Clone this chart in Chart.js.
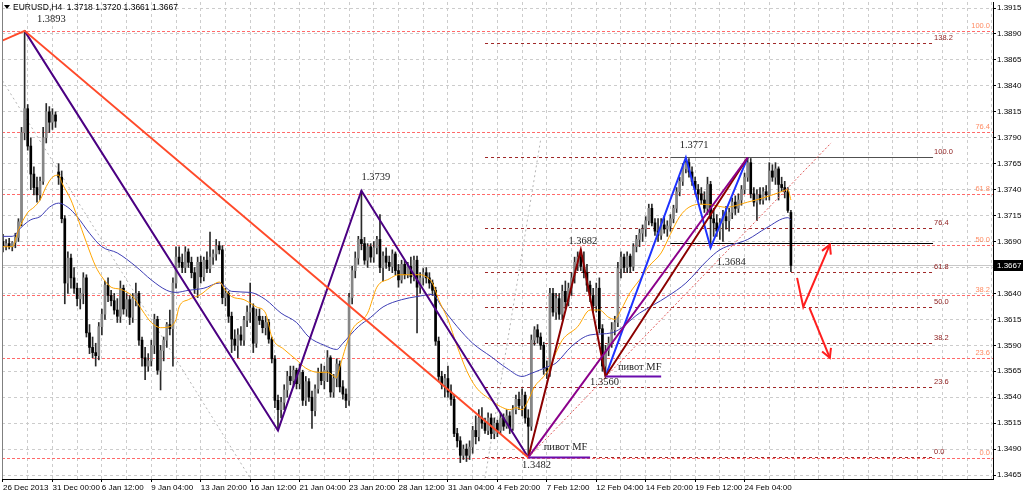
<!DOCTYPE html>
<html>
<head>
<meta charset="utf-8">
<script src="https://cdn.jsdelivr.net/npm/chart.js@4.4.1/dist/chart.umd.min.js"></script>
<style>
  html, body { margin: 0; padding: 0; background: #fff; }
  #chart { display: block; width: 1024px; height: 495px; }
</style>
</head>
<body>
<canvas id="chart" width="1024" height="495"></canvas>
<script>
// EURUSD H4, prices in pips (3690 -> 1.3690), one entry per bar
const opens = [
  3690, 3686, 3688, 3685, 3689, 3694, 3709, 3795, 3818, 3782,
  3755, 3742, 3735, 3748, 3790, 3815, 3805, 3812, 3757, 3752,
  3712, 3650, 3674, 3655, 3645, 3635, 3640, 3655, 3602, 3588,
  3583, 3580, 3608, 3620, 3648, 3638, 3633, 3624, 3618, 3645,
  3625, 3634, 3617, 3635, 3640, 3595, 3578, 3570, 3575, 3590,
  3615, 3566, 3585, 3595, 3610, 3606, 3650, 3675, 3670, 3665,
  3680, 3670, 3660, 3645, 3670, 3656, 3672, 3664, 3675, 3678,
  3686, 3682, 3636, 3640, 3618, 3596, 3590, 3600, 3595, 3614,
  3622, 3626, 3592, 3618, 3614, 3607, 3612, 3596, 3577, 3537,
  3528, 3535, 3547, 3560, 3556, 3566, 3553, 3564, 3537, 3555,
  3540, 3527, 3548, 3564, 3556, 3566, 3578, 3545, 3558, 3572,
  3550, 3543, 3537, 3636, 3662, 3674, 3692, 3688, 3672, 3685,
  3675, 3684, 3692, 3665, 3676, 3670, 3666, 3678, 3662, 3653,
  3668, 3658, 3666, 3656, 3672, 3646, 3655, 3660, 3655, 3650,
  3643, 3594, 3560, 3552, 3558, 3545, 3538, 3505, 3498, 3484,
  3490, 3484, 3492, 3508, 3502, 3520, 3515, 3508, 3520, 3505,
  3515, 3508, 3520, 3512, 3522, 3510, 3528, 3538, 3532, 3542,
  3520, 3512, 3595, 3605, 3598, 3590, 3568, 3565, 3640, 3622,
  3635, 3620, 3642, 3632, 3645, 3655, 3670, 3675, 3666, 3660,
  3648, 3638, 3628, 3645, 3606, 3570, 3585, 3592, 3605, 3612,
  3664, 3675, 3665, 3676, 3666, 3685, 3692, 3698, 3702, 3710,
  3722, 3708, 3700, 3696, 3706, 3702, 3705, 3712, 3722, 3738,
  3748, 3760, 3766, 3757, 3748, 3740, 3736, 3730, 3722, 3745,
  3712, 3708, 3700, 3708, 3714, 3710, 3718, 3728, 3722, 3730,
  3740, 3752, 3766, 3736, 3728, 3735, 3730, 3738, 3735, 3758,
  3752, 3760, 3745, 3742, 3738, 3718
];
const highs = [
  3697, 3692, 3693, 3690, 3698, 3712, 3800, 3893, 3822, 3790,
  3762, 3752, 3752, 3800, 3823, 3820, 3818, 3815, 3765, 3758,
  3715, 3680, 3678, 3665, 3650, 3645, 3660, 3658, 3610, 3598,
  3592, 3612, 3625, 3652, 3655, 3643, 3640, 3635, 3652, 3648,
  3640, 3638, 3640, 3650, 3642, 3598, 3588, 3582, 3595, 3620,
  3618, 3590, 3598, 3612, 3624, 3655, 3685, 3685, 3678, 3685,
  3683, 3675, 3665, 3675, 3676, 3675, 3680, 3699, 3682, 3692,
  3690, 3686, 3645, 3642, 3622, 3605, 3606, 3608, 3618, 3628,
  3650, 3630, 3625, 3625, 3618, 3618, 3615, 3598, 3580, 3542,
  3540, 3552, 3565, 3570, 3570, 3568, 3572, 3566, 3560, 3558,
  3546, 3552, 3568, 3572, 3570, 3585, 3580, 3562, 3577, 3575,
  3556, 3548, 3640, 3666, 3680, 3695, 3739, 3694, 3688, 3688,
  3690, 3695, 3716, 3680, 3684, 3676, 3682, 3680, 3668, 3672,
  3672, 3670, 3675, 3676, 3676, 3660, 3664, 3665, 3660, 3653,
  3646, 3598, 3565, 3562, 3570, 3552, 3542, 3510, 3502, 3494,
  3495, 3498, 3512, 3522, 3528, 3530, 3520, 3525, 3524, 3520,
  3518, 3525, 3524, 3528, 3526, 3532, 3542, 3545, 3548, 3545,
  3528, 3600, 3608, 3610, 3602, 3593, 3575, 3645, 3645, 3640,
  3640, 3648, 3652, 3650, 3660, 3675, 3680, 3682, 3680, 3668,
  3652, 3645, 3650, 3655, 3610, 3590, 3598, 3612, 3618, 3670,
  3680, 3678, 3680, 3678, 3688, 3696, 3702, 3706, 3714, 3726,
  3726, 3712, 3712, 3712, 3714, 3710, 3716, 3725, 3742, 3752,
  3765, 3771, 3770, 3762, 3752, 3745, 3742, 3738, 3752, 3748,
  3722, 3716, 3712, 3720, 3724, 3722, 3732, 3734, 3736, 3744,
  3756, 3771, 3770, 3742, 3740, 3742, 3742, 3744, 3766, 3764,
  3766, 3762, 3752, 3748, 3742, 3720
];
const lows = [
  3680, 3682, 3683, 3681, 3684, 3690, 3705, 3788, 3778, 3740,
  3735, 3728, 3730, 3745, 3785, 3795, 3798, 3800, 3745, 3708,
  3630, 3640, 3645, 3640, 3628, 3625, 3630, 3598, 3582, 3578,
  3570, 3576, 3600, 3615, 3632, 3628, 3620, 3612, 3612, 3620,
  3618, 3610, 3612, 3628, 3590, 3570, 3557, 3565, 3570, 3582,
  3562, 3547, 3575, 3588, 3600, 3570, 3645, 3665, 3660, 3660,
  3665, 3655, 3640, 3636, 3650, 3652, 3660, 3660, 3668, 3672,
  3678, 3630, 3628, 3612, 3583, 3585, 3578, 3590, 3590, 3608,
  3612, 3583, 3588, 3610, 3602, 3600, 3592, 3573, 3530, 3508,
  3520, 3528, 3540, 3552, 3550, 3548, 3548, 3532, 3532, 3536,
  3510, 3522, 3544, 3552, 3548, 3555, 3540, 3540, 3550, 3545,
  3538, 3530, 3532, 3630, 3655, 3668, 3682, 3668, 3665, 3670,
  3670, 3678, 3660, 3652, 3664, 3662, 3660, 3658, 3646, 3650,
  3654, 3655, 3650, 3652, 3602, 3640, 3648, 3650, 3645, 3638,
  3590, 3555, 3548, 3540, 3540, 3532, 3502, 3492, 3477, 3480,
  3478, 3480, 3486, 3495, 3498, 3510, 3505, 3504, 3500, 3500,
  3502, 3505, 3508, 3510, 3505, 3508, 3524, 3528, 3522, 3515,
  3482, 3508, 3590, 3592, 3586, 3562, 3558, 3560, 3618, 3615,
  3615, 3615, 3625, 3628, 3638, 3650, 3662, 3662, 3655, 3642,
  3632, 3622, 3622, 3602, 3565, 3560, 3580, 3588, 3600, 3608,
  3655, 3660, 3660, 3660, 3662, 3680, 3685, 3690, 3695, 3706,
  3705, 3696, 3690, 3692, 3698, 3695, 3700, 3708, 3718, 3734,
  3744, 3756, 3752, 3744, 3736, 3730, 3726, 3718, 3716, 3684,
  3695, 3695, 3692, 3690, 3702, 3700, 3712, 3716, 3718, 3725,
  3736, 3748, 3732, 3724, 3710, 3726, 3726, 3730, 3730, 3748,
  3745, 3730, 3738, 3732, 3718, 3661
];
const closes = [
  3686, 3688, 3685, 3689, 3694, 3709, 3795, 3818, 3782, 3755,
  3742, 3735, 3748, 3790, 3815, 3805, 3812, 3806, 3752, 3712,
  3650, 3674, 3655, 3645, 3635, 3640, 3655, 3602, 3588, 3583,
  3580, 3608, 3620, 3648, 3638, 3633, 3624, 3618, 3645, 3625,
  3634, 3617, 3635, 3640, 3595, 3578, 3570, 3575, 3590, 3615,
  3566, 3585, 3595, 3610, 3606, 3650, 3675, 3670, 3665, 3680,
  3670, 3660, 3645, 3670, 3656, 3672, 3664, 3675, 3678, 3686,
  3682, 3636, 3640, 3618, 3596, 3590, 3600, 3595, 3614, 3622,
  3626, 3592, 3618, 3614, 3607, 3612, 3596, 3577, 3537, 3528,
  3535, 3547, 3560, 3556, 3566, 3553, 3564, 3537, 3555, 3540,
  3527, 3548, 3564, 3556, 3566, 3578, 3545, 3558, 3572, 3550,
  3543, 3537, 3636, 3662, 3674, 3692, 3688, 3672, 3685, 3675,
  3684, 3692, 3665, 3676, 3670, 3666, 3678, 3662, 3653, 3668,
  3658, 3666, 3656, 3672, 3646, 3655, 3660, 3655, 3650, 3643,
  3594, 3560, 3552, 3558, 3545, 3538, 3505, 3498, 3484, 3490,
  3484, 3492, 3508, 3502, 3520, 3515, 3508, 3520, 3505, 3515,
  3508, 3520, 3512, 3522, 3510, 3528, 3538, 3532, 3542, 3520,
  3512, 3595, 3605, 3598, 3590, 3568, 3565, 3640, 3622, 3635,
  3620, 3642, 3632, 3645, 3655, 3670, 3675, 3666, 3660, 3648,
  3638, 3628, 3645, 3606, 3570, 3585, 3592, 3605, 3612, 3664,
  3675, 3665, 3676, 3666, 3685, 3692, 3698, 3702, 3710, 3722,
  3708, 3700, 3696, 3706, 3702, 3705, 3712, 3722, 3738, 3748,
  3760, 3766, 3757, 3748, 3740, 3736, 3730, 3722, 3745, 3712,
  3708, 3700, 3708, 3714, 3710, 3718, 3728, 3722, 3730, 3740,
  3752, 3766, 3736, 3728, 3735, 3730, 3738, 3735, 3758, 3752,
  3760, 3745, 3742, 3738, 3720, 3667
];

// moving averages, sampled along the curves (bar index / pips)
const fastMaBars = [0, 3, 5, 8, 10, 12, 14, 16, 18, 19, 22, 24, 27, 30, 32, 35, 38, 42, 45, 48,
  51, 54, 56, 57, 60, 64, 67, 70, 72, 74, 78, 82, 85, 87, 91, 95, 98, 102, 105, 108,
  109, 111, 113, 118, 121, 125, 128, 132, 135, 137, 139, 141, 144, 147, 150, 153, 158, 161, 164, 166,
  168, 170, 172, 175, 177, 179, 181, 186, 190, 193, 196, 198, 200, 203, 206, 209, 213, 216, 219, 222,
  226, 230, 234, 241, 246, 251, 254, 255];
const fastMa = [3685, 3685, 3701, 3718, 3723, 3730, 3743, 3752, 3754, 3747, 3730, 3714, 3689, 3666, 3656, 3646, 3644, 3637, 3624, 3612,
  3607, 3608, 3615, 3627, 3634, 3639, 3646, 3651, 3643, 3637, 3634, 3627, 3621, 3598, 3586, 3576, 3568, 3564, 3564, 3559,
  3569, 3589, 3605, 3621, 3646, 3654, 3658, 3658, 3658, 3656, 3650, 3634, 3615, 3589, 3566, 3550, 3537, 3531, 3528, 3530,
  3528, 3537, 3550, 3560, 3569, 3583, 3595, 3608, 3624, 3624, 3617, 3615, 3624, 3641, 3653, 3666, 3679, 3697, 3714, 3723,
  3726, 3725, 3723, 3728, 3732, 3737, 3740, 3730];
const slowMaBars = [0, 3, 6, 9, 12, 15, 18, 21, 24, 28, 32, 37, 43, 48, 53, 56, 60, 65, 70, 74,
  80, 85, 90, 95, 99, 104, 108, 110, 115, 119, 123, 129, 134, 139, 142, 147, 152, 158, 163, 168,
  171, 176, 179, 184, 190, 197, 206, 215, 221, 228, 232, 241, 247, 254, 255];
const slowMa = [3695, 3695, 3704, 3711, 3714, 3723, 3727, 3723, 3714, 3698, 3685, 3679, 3666, 3653, 3643, 3641, 3643, 3645, 3650, 3642,
  3641, 3634, 3621, 3612, 3598, 3590, 3586, 3592, 3608, 3617, 3627, 3634, 3637, 3639, 3627, 3608, 3592, 3579, 3568, 3560,
  3563, 3569, 3573, 3589, 3600, 3602, 3621, 3637, 3650, 3672, 3682, 3692, 3703, 3713, 3711];

// axis
const timeLabels = ['26 Dec 2013', '31 Dec 00:00', '6 Jan 12:00', '9 Jan 04:00', '13 Jan 20:00', '16 Jan 12:00',
  '21 Jan 04:00', '23 Jan 20:00', '28 Jan 12:00', '31 Jan 04:00', '4 Feb 20:00', '7 Feb 12:00',
  '12 Feb 04:00', '14 Feb 20:00', '19 Feb 12:00', '24 Feb 04:00'];
const priceTicks = [1.3465, 1.3490, 1.3515, 1.3540, 1.3565, 1.3590, 1.3615, 1.3640, 1.3665, 1.3690,
  1.3715, 1.3740, 1.3765, 1.3790, 1.3815, 1.3840, 1.3865, 1.3890, 1.3915];
const lastPrice = 1.3667;

// zigzags (bar index / price)
const bigZigBars = [-3, 7, 170];
const bigZig = [1.3880, 1.3893, 1.3482];
const waveBars = [7, 89, 116, 170];
const wave = [1.3893, 1.3508, 1.3739, 1.3482];
const upWaveBars = [170, 187, 195, 241];
const upWave = [1.3482, 1.3682, 1.3560, 1.3771];
const upLineBars = [170, 241];
const upLine = [1.3482, 1.3771];
const topWaveBars = [195, 221, 229, 241];
const topWave = [1.3560, 1.3771, 1.3684, 1.3771];

// fibonacci grids
const fibLevelsA = [0, 23.6, 38.2, 50, 61.8, 76.4, 100];
const fibRangeA = [1.3481, 1.3893];
const fibLevelsB = [0, 23.6, 38.2, 50, 61.8, 76.4, 100, 138.2];
const fibRangeB = [1.3482, 1.3771];
const fibBarsB = [156, 301];

// other drawings
const channelBars = [170, 268];
const channel = [1.3482, 1.3785];
const grayRayBars = [-1, 80];
const grayRay = [1.3849, 1.3462];
const grayArcBars = [156, 174];
const grayArc = [1.3462, 1.3788];
const topLineBars = [216, 301];
const topLine = 1.3771;
const neckBars = [216, 301];
const neck = 1.3689;
const pivotMfBars = [[170, 190], [195, 213]];
const pivotMf = [1.3482, 1.3560];
const arrowUpBars = [257, 259, 267.6];
const arrowUp = [1.3655, 1.3627, 1.3687];
const arrowDownBars = [261, 267.6];
const arrowDown = [1.3626, 1.3578];

const noteTexts = ['1.3893', '1.3739', '1.3482', '1.3682', '1.3560', '1.3771', '1.3684', 'пивот MF', 'пивот MF'];
const noteBars = [11, 116, 168, 183, 190, 219, 231, 175, 199];
const notePrices = [1.3904, 1.3752, 1.3474, 1.3690, 1.3554, 1.3783, 1.3670, 1.3492, 1.3569];

const toPrice = v => 1 + v / 10000;
const UI_FONT = '"Liberation Sans", Arial, sans-serif';

function pts(bars, vals) {
  return bars.map((b, k) => ({ x: b, y: vals[k] }));
}

function line(ctx, xs, ys, color, width, dash) {
  ctx.save();
  ctx.strokeStyle = color;
  ctx.lineWidth = width;
  ctx.setLineDash(dash || []);
  ctx.beginPath();
  xs.forEach((X, k) => (k ? ctx.lineTo(X, ys[k]) : ctx.moveTo(X, ys[k])));
  ctx.stroke();
  ctx.restore();
}

function hline(ctx, x1, x2, Y, color, dash) {
  const yy = Math.round(Y) + 0.5;
  line(ctx, [x1, x2], [yy, yy], color, 1, dash);
}

const drawings = {
  id: 'drawings',
  beforeDatasetsDraw(chart) {
    const { ctx, chartArea: a, scales: { x, y } } = chart;
    ctx.save();
    ctx.beginPath();
    ctx.rect(a.left, a.top, a.width, a.height);
    ctx.clip();

    hline(ctx, a.left, a.right, y.getPixelForValue(lastPrice), '#c8c8c8');

    ctx.font = '7.5px ' + UI_FONT;
    ctx.textBaseline = 'bottom';
    fibLevelsA.forEach(r => {
      const Y = y.getPixelForValue(fibRangeA[0] + (fibRangeA[1] - fibRangeA[0]) * r / 100);
      hline(ctx, a.left, a.right, Y, '#ff6a6a', [3, 2]);
      ctx.fillStyle = '#ff8c64';
      ctx.textAlign = 'right';
      ctx.fillText(r.toFixed(1), a.right - 3, Math.round(Y) - 1);
    });

    const bx1 = x.getPixelForValue(fibBarsB[0]);
    const bx2 = x.getPixelForValue(fibBarsB[1]);
    fibLevelsB.forEach(r => {
      const Y = y.getPixelForValue(fibRangeB[0] + (fibRangeB[1] - fibRangeB[0]) * r / 100);
      hline(ctx, bx1, bx2, Y, '#a02828', [3, 3]);
      ctx.fillStyle = '#8b1a1a';
      ctx.textAlign = 'left';
      ctx.fillText(r.toFixed(1), bx2 + 1, Math.round(Y) - 1);
    });

    hline(ctx, x.getPixelForValue(topLineBars[0]), x.getPixelForValue(topLineBars[1]), y.getPixelForValue(topLine), '#505050');
    hline(ctx, x.getPixelForValue(neckBars[0]), x.getPixelForValue(neckBars[1]), y.getPixelForValue(neck), '#000000');

    line(ctx, grayRayBars.map(b => x.getPixelForValue(b)), grayRay.map(p => y.getPixelForValue(p)), '#b4b4b4', 1, [2, 3]);
    line(ctx, grayArcBars.map(b => x.getPixelForValue(b)), grayArc.map(p => y.getPixelForValue(p)), '#b4b4b4', 1, [2, 3]);
    ctx.restore();
  },
  afterDatasetsDraw(chart) {
    const { ctx, chartArea: a, scales: { x, y } } = chart;
    ctx.save();
    ctx.beginPath();
    ctx.rect(a.left, a.top, a.width, a.height);
    ctx.clip();

    line(ctx, channelBars.map(b => x.getPixelForValue(b)), channel.map(p => y.getPixelForValue(p)), '#e05a5a', 1, [2, 2]);

    pivotMfBars.forEach((bars, k) => {
      const Y = Math.round(y.getPixelForValue(pivotMf[k])) + 0.5;
      line(ctx, bars.map(b => x.getPixelForValue(b)), [Y, Y], '#6a0dad', 2);
    });

    // red arrows
    [[arrowUpBars, arrowUp], [arrowDownBars, arrowDown]].forEach(([bars, prices]) => {
      const xs = bars.map(b => x.getPixelForValue(b));
      const ys = prices.map(p => y.getPixelForValue(p));
      line(ctx, xs, ys, '#ff1e1e', 2);
      const n = xs.length - 1;
      const ang = Math.atan2(ys[n] - ys[n - 1], xs[n] - xs[n - 1]);
      const hx = [], hy = [];
      [-0.5, 0.5].forEach(s => {
        hx.push(xs[n] - 10 * Math.cos(ang + s));
        hy.push(ys[n] - 10 * Math.sin(ang + s));
      });
      line(ctx, [hx[0], xs[n], hx[1]], [hy[0], ys[n], hy[1]], '#ff1e1e', 2);
    });

    ctx.font = '10.5px "Liberation Serif", "Times New Roman", serif';
    ctx.fillStyle = '#1e1e1e';
    ctx.textAlign = 'left';
    ctx.textBaseline = 'middle';
    noteTexts.forEach((t, k) => ctx.fillText(t, x.getPixelForValue(noteBars[k]), y.getPixelForValue(notePrices[k])));

    // title
    const n = closes.length - 1;
    ctx.fillStyle = '#000';
    ctx.beginPath();
    ctx.moveTo(a.left + 2, 5); ctx.lineTo(a.left + 8, 5); ctx.lineTo(a.left + 5, 9); ctx.closePath();
    ctx.fill();
    ctx.font = '8.5px ' + UI_FONT;
    ctx.fillText('EURUSD,H4  ' + [opens[n], highs[n], lows[n], closes[n]].map(v => toPrice(v).toFixed(4)).join(' '), a.left + 11, 8);
    ctx.restore();

    // frame left edge
    line(ctx, [a.left + 0.5, a.left + 0.5], [a.top, a.bottom], '#808080', 1);

    // last price marker on axis
    const Y = Math.round(y.getPixelForValue(lastPrice));
    ctx.save();
    ctx.fillStyle = '#000';
    ctx.fillRect(a.right + 1, Y - 5, 29, 11);
    ctx.fillStyle = '#fff';
    ctx.font = '8px ' + UI_FONT;
    ctx.textAlign = 'left';
    ctx.textBaseline = 'middle';
    ctx.fillText(lastPrice.toFixed(4), a.right + 4, Y + 0.5);
    ctx.restore();
  }
};

const bodies = opens.map((o, i) => ({ x: i, y: [toPrice(o), toPrice(closes[i])] }));
const wicks = lows.map((l, i) => ({ x: i, y: [toPrice(l), toPrice(highs[i])] }));
const bodyColors = opens.map((o, i) => (closes[i] >= o ? '#868686' : '#000000'));

function zig(bars, prices, color) {
  return { type: 'line', data: pts(bars, prices), borderColor: color, borderWidth: 2, pointRadius: 0, tension: 0, order: 0 };
}

new Chart(document.getElementById('chart'), {
  type: 'bar',
  data: {
    datasets: [
      zig(bigZigBars, bigZig, '#ff4a2a'),
      zig(waveBars, wave, '#4b0082'),
      zig(upLineBars, upLine, '#8b008b'),
      zig(upWaveBars, upWave, '#8b0000'),
      zig(topWaveBars, topWave, '#1e32ff'),
      { type: 'line', data: pts(fastMaBars, fastMa.map(toPrice)), borderColor: '#ffa500', borderWidth: 1,
        pointRadius: 0, cubicInterpolationMode: 'monotone', order: 1 },
      { type: 'line', data: pts(slowMaBars, slowMa.map(toPrice)), borderColor: '#3c3cb4', borderWidth: 1,
        pointRadius: 0, cubicInterpolationMode: 'monotone', order: 1 },
      { type: 'bar', data: bodies, backgroundColor: bodyColors, barThickness: 2, minBarLength: 1, grouped: false, order: 2 },
      { type: 'bar', data: wicks, backgroundColor: '#2a2a2a', barThickness: 1, grouped: false, order: 3 }
    ]
  },
  options: {
    responsive: false,
    animation: false,
    devicePixelRatio: 1,
    events: [],
    layout: { padding: { left: 2, top: 2, right: 0, bottom: 0 } },
    plugins: { legend: { display: false }, tooltip: { enabled: false } },
    scales: {
      x: {
        type: 'linear',
        min: -0.32,
        max: 320.4,
        offset: false,
        afterBuildTicks: s => {
          const t = [];
          for (let v = 0; v <= 320; v += 8) t.push({ value: v });
          s.ticks = t;
        },
        afterFit: s => { s.height = 16; s.paddingLeft = 0; s.paddingRight = 0; },
        ticks: {
          autoSkip: false,
          maxRotation: 0,
          align: 'start',
          padding: 1,
          color: '#000',
          font: { family: UI_FONT, size: 8 },
          callback: v => (v % 16 === 0 && timeLabels[v / 16]) ? timeLabels[v / 16] : ''
        },
        grid: {
          offset: false,
          color: '#cccccc',
          tickLength: 3,
          tickColor: c => (c.tick && c.tick.value % 16 === 0 && c.tick.value / 16 < timeLabels.length) ? '#000' : 'rgba(0,0,0,0)'
        },
        border: { display: true, color: '#000', width: 1, dash: [3, 3] }
      },
      y: {
        type: 'linear',
        position: 'right',
        min: 1.34612,
        max: 1.39208,
        afterBuildTicks: s => { s.ticks = priceTicks.map(v => ({ value: v })); },
        afterFit: s => { s.width = 31; s.paddingTop = 0; s.paddingBottom = 0; },
        ticks: {
          padding: 1,
          color: '#000',
          font: { family: UI_FONT, size: 8 },
          callback: v => v.toFixed(4)
        },
        grid: { color: '#cccccc', tickLength: 3, tickColor: '#000' },
        border: { display: true, color: '#000', width: 1, dash: [3, 3] }
      }
    }
  },
  plugins: [drawings]
});
</script>
</body>
</html>
